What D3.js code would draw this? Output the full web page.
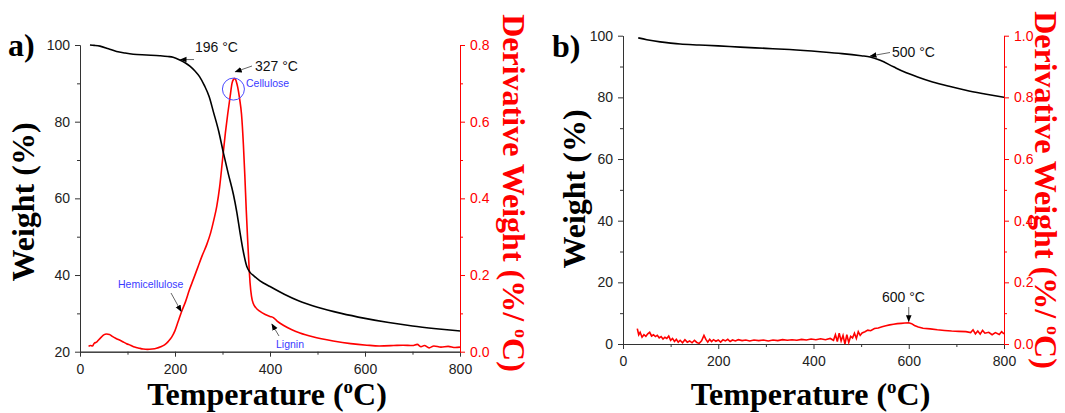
<!DOCTYPE html>
<html>
<head>
<meta charset="utf-8">
<script src="https://cdn.jsdelivr.net/npm/d3@7"></script>
<style>
  body { margin: 0; background: #fff; }
  svg { display: block; }
  .tick text { font-family: "Liberation Sans", Arial, sans-serif; font-size: 14px; }
  .title { font-family: "Liberation Serif", "Times New Roman", serif; font-weight: bold; font-size: 32px; }
  .note { font-family: "Liberation Sans", Arial, sans-serif; font-size: 14px; fill: #111; }
  .blue { font-family: "Liberation Sans", Arial, sans-serif; font-size: 10.5px; fill: #3a3aff; }
</style>
</head>
<body>
<div id="chart"></div>
<script>
// ---- panel a) : TGA of raw biomass ----
var tempA   = [21, 30, 42, 60, 77, 95, 112, 140, 168, 185, 196, 210, 222, 232, 242, 252, 262, 272, 281, 292,
               302, 312, 323, 330, 337, 344, 351, 358, 366, 379, 400, 430, 460, 500, 550, 600, 650, 700, 750, 800];
var weightA = [100, 99.9, 99.7, 99.0, 98.3, 97.9, 97.6, 97.4, 97.2, 97.0, 96.8, 96.1, 95.3, 94.4, 93.2, 91.7, 89.4, 86.5, 82.5, 77.5,
               71.8, 66.5, 61.0, 56.5, 51.0, 46.0, 42.3, 40.7, 39.8, 38.5, 37.0, 35.0, 33.3, 31.6, 30.0, 28.7, 27.6, 26.7, 26.0, 25.4];

var dTempA = [18, 22, 26, 30, 35, 40, 45, 50, 56, 62, 68, 75, 82, 90, 98, 106, 115, 125, 133, 142,
              152, 161, 170, 178, 186, 193, 200, 207, 214, 222, 230, 239, 248, 257, 267, 275, 282, 288, 294, 300,
              306, 311, 316, 320, 323, 326, 329, 332, 336, 340, 344, 347, 350, 353, 356, 358, 361, 365, 370, 379,
              390, 400, 407, 415, 428, 445, 463, 490, 533, 570, 604, 630, 660, 680, 700, 710, 718, 725, 735, 745,
              760, 775, 790, 800];
var derivA = [0.014, 0.016, 0.015, 0.022, 0.025, 0.032, 0.038, 0.044, 0.046, 0.045, 0.040, 0.035, 0.031, 0.026, 0.021, 0.017, 0.012, 0.009, 0.007, 0.006,
              0.007, 0.009, 0.013, 0.018, 0.027, 0.038, 0.055, 0.080, 0.105, 0.130, 0.160, 0.190, 0.220, 0.250, 0.280, 0.310, 0.345, 0.380, 0.430, 0.500,
              0.570, 0.620, 0.665, 0.700, 0.710, 0.713, 0.705, 0.690, 0.660, 0.620, 0.540, 0.460, 0.370, 0.290, 0.220, 0.180, 0.145, 0.125, 0.115, 0.105,
              0.097, 0.092, 0.089, 0.080, 0.069, 0.058, 0.049, 0.039, 0.028, 0.021, 0.017, 0.015, 0.016, 0.017, 0.016, 0.019, 0.013, 0.016, 0.010, 0.015,
              0.012, 0.014, 0.011, 0.012];

// ---- panel b) : TGA of treated sample ----
var tempB   = [32, 50, 78, 100, 120, 160, 200, 246, 300, 350, 414, 460, 500, 519, 540, 568, 590, 617, 650, 687, 720, 760, 800];
var weightB = [99.3, 98.7, 98.0, 97.6, 97.3, 97.0, 96.7, 96.3, 95.9, 95.5, 94.8, 94.2, 93.5, 93.1, 92.0, 89.9, 88.3, 86.7, 85.0, 83.5, 82.3, 81.1, 80.0];

var dTempB = [30, 33, 36, 40, 44, 48, 52, 56, 60, 64, 68, 72, 76, 80, 84, 88, 92, 96, 100, 104,
              108, 112, 116, 120, 125, 130, 135, 140, 145, 150, 155, 160, 165, 170, 174, 178, 182, 186, 190, 195,
              200, 205, 210, 215, 220, 225, 230, 236, 242, 250, 258, 266, 275, 285, 295, 305, 315, 325, 335, 345,
              355, 365, 375, 385, 395, 405, 415, 425, 435, 442, 446, 450, 454, 458, 462, 466, 470, 474, 478, 482,
              486, 490, 494, 498, 502, 508, 514, 520, 528, 536, 544, 552, 560, 568, 576, 584, 592, 600, 606, 612,
              620, 630, 645, 660, 675, 690, 705, 720, 730, 735, 740, 745, 750, 755, 760, 768, 775, 782, 790, 795, 800];
var derivB = [0.050, 0.030, 0.038, 0.022, 0.030, 0.025, 0.033, 0.038, 0.026, 0.030, 0.024, 0.028, 0.020, 0.024, 0.016, 0.022, 0.018, 0.026, 0.012, 0.018,
              0.008, 0.015, 0.006, 0.012, 0.004, 0.014, 0.006, 0.010, 0.004, 0.012, 0.005, 0.002, 0.010, 0.028, 0.015, 0.006, 0.015, 0.008, 0.014, 0.009,
              0.013, 0.006, 0.014, 0.010, 0.015, 0.008, 0.013, 0.010, 0.014, 0.011, 0.013, 0.010, 0.013, 0.011, 0.013, 0.010, 0.013, 0.011, 0.014, 0.012,
              0.014, 0.012, 0.015, 0.013, 0.016, 0.014, 0.017, 0.014, 0.018, 0.012, 0.030, 0.008, 0.035, 0.010, 0.028, 0.000, 0.030, 0.005, 0.025, 0.020,
              0.035, 0.018, 0.040, 0.028, 0.036, 0.040, 0.045, 0.043, 0.050, 0.052, 0.056, 0.059, 0.062, 0.064, 0.066, 0.067, 0.068, 0.069, 0.066, 0.060,
              0.055, 0.051, 0.049, 0.046, 0.044, 0.042, 0.041, 0.040, 0.037, 0.046, 0.033, 0.042, 0.032, 0.044, 0.035, 0.038, 0.030, 0.037, 0.031, 0.040, 0.033];

// ---- ticks ----
var tempTicks  = [0, 200, 400, 600, 800];
var tempMinor  = [100, 300, 500, 700];
var wTicksA    = [20, 40, 60, 80, 100];
var wMinorA    = [30, 50, 70, 90];
var dTicksA    = [0, 0.2, 0.4, 0.6, 0.8];
var dMinorA    = [0.1, 0.3, 0.5, 0.7];
var wTicksB    = [0, 20, 40, 60, 80, 100];
var wMinorB    = [10, 30, 50, 70, 90];
var dTicksB    = [0, 0.2, 0.4, 0.6, 0.8, 1.0];
var dMinorB    = [0.1, 0.3, 0.5, 0.7, 0.9];

var width = 1065, height = 413;

var svg = d3.select("#chart").append("svg")
  .attr("width", width)
  .attr("height", height);

var defs = svg.append("defs");
defs.append("marker")
  .attr("id", "arrow")
  .attr("viewBox", "0 0 10 10")
  .attr("refX", 9).attr("refY", 5)
  .attr("markerWidth", 7).attr("markerHeight", 7)
  .attr("orient", "auto-start-reverse")
  .append("path")
  .attr("d", "M0,1 L10,5 L0,9 z")
  .attr("fill", "#000");

function zip(a, b) { return a.map(function(v, i) { return [v, b[i]]; }); }

function panel(o) {
  var x = d3.scaleLinear().domain([0, 800]).range([o.left, o.right]);
  var yL = d3.scaleLinear().domain(o.wDomain).range([o.bottom, o.top]);
  var yR = d3.scaleLinear().domain(o.dDomain).range([o.bottom, o.top]);

  var g = svg.append("g");

  // minor ticks first
  g.append("g").attr("transform", "translate(0," + o.bottom + ")")
    .call(d3.axisBottom(x).tickValues(tempMinor).tickSize(3).tickFormat("").tickSizeOuter(0))
    .call(s => s.selectAll("line,path").attr("stroke", "#333"));
  g.append("g").attr("transform", "translate(" + o.left + ",0)")
    .call(d3.axisLeft(yL).tickValues(o.wMinor).tickSize(3).tickFormat("").tickSizeOuter(0))
    .call(s => s.selectAll("line,path").attr("stroke", "#333"));
  g.append("g").attr("transform", "translate(" + o.right + ",0)")
    .call(d3.axisRight(yR).tickValues(o.dMinor).tickSize(3).tickFormat("").tickSizeOuter(0))
    .call(s => s.selectAll("line,path").attr("stroke", "red"));

  // major axes
  g.append("g").attr("transform", "translate(0," + o.bottom + ")")
    .call(d3.axisBottom(x).tickValues(tempTicks).tickSize(5).tickPadding(7).tickSizeOuter(0))
    .call(s => s.selectAll("line,path").attr("stroke", "#333"))
    .call(s => s.selectAll("text").attr("fill", "#222"));
  g.append("g").attr("transform", "translate(" + o.left + ",0)")
    .call(d3.axisLeft(yL).tickValues(o.wTicks).tickSize(5).tickPadding(5).tickSizeOuter(0))
    .call(s => s.selectAll("line,path").attr("stroke", "#333"))
    .call(s => s.selectAll("text").attr("fill", "#222"));
  g.append("g").attr("transform", "translate(" + o.right + ",0)")
    .call(d3.axisRight(yR).tickValues(o.dTicks).tickSize(5).tickPadding(5).tickFormat(d3.format(".1f")).tickSizeOuter(0))
    .call(s => s.selectAll("line,path").attr("stroke", "red"))
    .call(s => s.selectAll("text").attr("fill", "red"));

  // curves
  g.append("path")
    .datum(zip(o.dTemp, o.deriv))
    .attr("fill", "none").attr("stroke", "red").attr("stroke-width", 1.6)
    .attr("d", d3.line().x(d => x(d[0])).y(d => yR(d[1])).curve(o.dCurve));
  g.append("path")
    .datum(zip(o.temp, o.weight))
    .attr("fill", "none").attr("stroke", "#000").attr("stroke-width", 1.6)
    .attr("d", d3.line().x(d => x(d[0])).y(d => yL(d[1])).curve(d3.curveMonotoneX));

  // titles
  g.append("text").attr("class", "title")
    .attr("text-anchor", "middle")
    .attr("transform", "translate(" + o.wTitleX + "," + o.wTitleY + ") rotate(-90)")
    .text("Weight (%)");

  var xt = g.append("text").attr("class", "title")
    .attr("text-anchor", "middle")
    .attr("x", (o.left + o.right) / 2 - 3).attr("y", 405);
  xt.append("tspan").text("Temperature (");
  xt.append("tspan").attr("font-size", "19px").attr("dy", -12).text("o");
  xt.append("tspan").attr("dy", 12).text("C)");

  var rt = g.append("text").attr("class", "title")
    .attr("fill", "red")
    .attr("font-size", "30px")
    .attr("text-anchor", "middle")
    .attr("transform", "translate(" + o.dTitleX + "," + o.dTitleY + ") rotate(90)");
  rt.append("tspan").text("Derivative Weight (%/ ");
  rt.append("tspan").attr("font-size", "18px").attr("dy", -12).text("o");
  rt.append("tspan").attr("dy", 12).text("C)");

  g.append("text").attr("class", "title")
    .attr("font-size", "25px")
    .attr("x", o.tagX).attr("y", o.tagY)
    .text(o.tag);

  return { x: x, yL: yL, yR: yR, g: g };
}

function arrow(g, x1, y1, x2, y2) {
  g.append("line")
    .attr("x1", x1).attr("y1", y1).attr("x2", x2).attr("y2", y2)
    .attr("stroke", "#666").attr("stroke-width", 1)
    .attr("marker-end", "url(#arrow)");
}

// ---- panel a ----
var pa = panel({
  left: 80, right: 460, top: 45, bottom: 351.7,
  wDomain: [20, 100], dDomain: [0, 0.8],
  wTicks: wTicksA, wMinor: wMinorA, dTicks: dTicksA, dMinor: dMinorA,
  temp: tempA, weight: weightA, dTemp: dTempA, deriv: derivA, dCurve: d3.curveMonotoneX,
  wTitleX: 34, wTitleY: 202, dTitleX: 503, dTitleY: 193,
  tag: "a)", tagX: 8, tagY: 56
});

var ax = pa.x, ayL = pa.yL, ayR = pa.yR;
pa.g.append("text").attr("class", "note").attr("x", 195).attr("y", 52).text("196 °C");
arrow(pa.g, ax(240), ayL(96.2), ax(211), ayL(96.2));

pa.g.append("text").attr("class", "note").attr("x", 255).attr("y", 71).text("327 °C");
arrow(pa.g, 252, 66, ax(327), ayR(0.73));
pa.g.append("circle")
  .attr("cx", ax(323)).attr("cy", ayR(0.685)).attr("r", 11)
  .attr("fill", "none").attr("stroke", "#4a4aff").attr("stroke-width", 1);
pa.g.append("text").attr("class", "blue").attr("x", 246).attr("y", 87).text("Cellulose");

pa.g.append("text").attr("class", "blue").attr("x", 118).attr("y", 288).text("Hemicellulose");
arrow(pa.g, 171, 293, ax(213), ayR(0.105));

pa.g.append("text").attr("class", "blue").attr("x", 276).attr("y", 348).text("Lignin");
arrow(pa.g, 279, 336, ax(404), ayR(0.072));

// ---- panel b ----
var pb = panel({
  left: 623, right: 1004, top: 35.7, bottom: 344,
  wDomain: [0, 100], dDomain: [0, 1.0],
  wTicks: wTicksB, wMinor: wMinorB, dTicks: dTicksB, dMinor: dMinorB,
  temp: tempB, weight: weightB, dTemp: dTempB, deriv: derivB, dCurve: d3.curveLinear,
  wTitleX: 585, wTitleY: 189, dTitleX: 1035, dTitleY: 190,
  tag: "b)", tagX: 552, tagY: 57
});

var bx = pb.x, byL = pb.yL, byR = pb.yR;
pb.g.append("text").attr("class", "note").attr("x", 892).attr("y", 57).text("500 °C");
arrow(pb.g, 890, 52.5, bx(519), byL(93.4));

pb.g.append("text").attr("class", "note").attr("x", 882).attr("y", 302).text("600 °C");
arrow(pb.g, bx(600), 307, bx(600), byR(0.073));
</script>
</body>
</html>
